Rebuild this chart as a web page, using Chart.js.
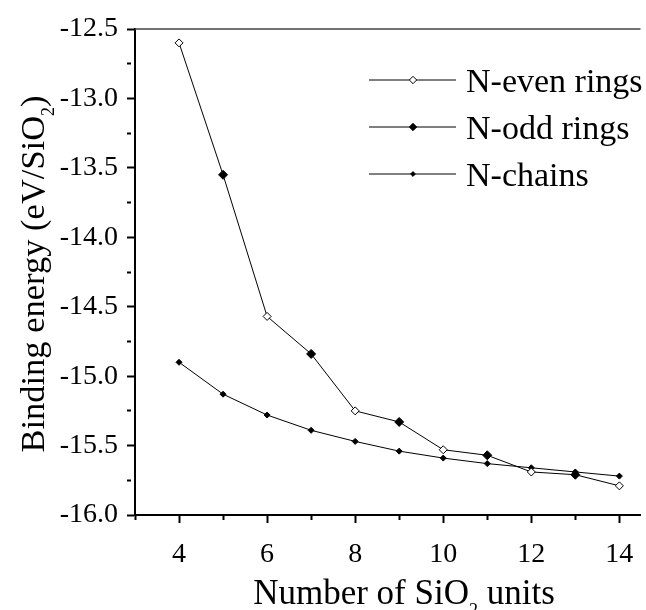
<!DOCTYPE html>
<html>
<head>
<meta charset="utf-8">
<script src="https://cdn.jsdelivr.net/npm/chart.js@4/dist/chart.umd.min.js"></script>
<style>
  html, body { margin: 0; padding: 0; background: #fff; overflow: hidden; }
  #wrap { position: relative; width: 646px; height: 610px; overflow: hidden; }
  #plot { position: absolute; left: 0; top: 0; }
  #overlay { position: absolute; left: 0; top: 0; pointer-events: none; }
  #overlay text { font-family: "Liberation Serif", "Times New Roman", serif; fill: #000; }
</style>
</head>
<body>
<div id="wrap">
  <canvas id="plot" width="646" height="610"></canvas>
  <svg id="overlay" width="646" height="610" xmlns="http://www.w3.org/2000/svg">
    <text transform="translate(44,274) rotate(-90)" text-anchor="middle" font-size="34.5">Binding energy (eV/SiO<tspan font-size="18" dy="10">2</tspan><tspan dy="-10">)</tspan></text>
    <text x="404" y="604" text-anchor="middle" font-size="35">Number of SiO<tspan font-size="18" dy="12">2</tspan><tspan dy="-12"> units</tspan></text>
    <g id="legend"></g>
  </svg>
</div>
<script>
// cluster size (number of SiO2 units) and binding energy per SiO2, eV
const ringEvenN = [4, 6, 8, 10, 12, 14];
const ringEvenE = [-12.60, -14.57, -15.25, -15.53, -15.69, -15.79];
const ringOddN = [5, 7, 9, 11, 13];
const ringOddE = [-13.55, -14.84, -15.33, -15.57, -15.71];
const chainN = [4, 5, 6, 7, 8, 9, 10, 11, 12, 13, 14];
const chainE = [-14.90, -15.13, -15.28, -15.39, -15.47, -15.54, -15.59, -15.63, -15.66, -15.69, -15.72];

const seriesNames = ['N-even rings', 'N-odd rings', 'N-chains'];

const FONT = '"Liberation Serif", "Times New Roman", serif';

function toPoints(xs, ys) {
  return xs.map((x, i) => ({x: x, y: ys[i]}));
}

// even and odd rings lie on one connected curve
const ringLine = toPoints(ringEvenN, ringEvenE)
    .concat(toPoints(ringOddN, ringOddE))
    .sort((a, b) => a.x - b.x);

// top edge of the frame
const frameTop = {
  id: 'frameTop',
  afterDraw(chart) {
    const {ctx, chartArea} = chart;
    ctx.save();
    ctx.strokeStyle = '#444';
    ctx.lineWidth = 1.5;
    ctx.beginPath();
    ctx.moveTo(chartArea.left, chartArea.top);
    ctx.lineTo(chartArea.right, chartArea.top);
    ctx.stroke();
    ctx.restore();
  }
};

const lineBase = {
  borderColor: '#000',
  borderWidth: 1,
  tension: 0,
  pointStyle: 'rectRot',
  pointBorderColor: '#000',
  pointBorderWidth: 1
};

new Chart(document.getElementById('plot'), {
  type: 'line',
  data: {
    datasets: [
      Object.assign({}, lineBase, {
        label: 'rings',
        data: ringLine,
        pointRadius: 0,
        order: 4
      }),
      Object.assign({}, lineBase, {
        label: seriesNames[2],
        data: toPoints(chainN, chainE),
        pointRadius: 3,
        pointBackgroundColor: '#000',
        order: 3
      }),
      Object.assign({}, lineBase, {
        label: seriesNames[0],
        data: toPoints(ringEvenN, ringEvenE),
        showLine: false,
        pointRadius: 4,
        pointBackgroundColor: '#fff',
        order: 2
      }),
      Object.assign({}, lineBase, {
        label: seriesNames[1],
        data: toPoints(ringOddN, ringOddE),
        showLine: false,
        pointRadius: 4.5,
        pointBackgroundColor: '#000',
        order: 1
      })
    ]
  },
  options: {
    responsive: false,
    animation: false,
    events: [],
    layout: {padding: {top: 29, left: 0, right: 0, bottom: 0}},
    plugins: {legend: {display: false}, tooltip: {enabled: false}},
    scales: {
      x: {
        type: 'linear',
        min: 3,
        max: 14.48,
        border: {color: '#000', width: 2},
        grid: {
          drawOnChartArea: false,
          tickLength: 8,
          tickWidth: 2,
          tickColor: '#000',
          // odd values get short minor ticks
          tickBorderDash: (ctx) => (ctx.tick && ctx.tick.value % 2 !== 0) ? [4, 40] : []
        },
        ticks: {
          stepSize: 1,
          autoSkip: false,
          includeBounds: false,
          maxRotation: 0,
          padding: 15,
          color: '#000',
          font: {family: FONT, size: 28},
          callback: (v) => v % 2 === 0 ? String(v) : ''
        },
        afterFit: (scale) => {
          scale.height = 95;
          scale.paddingLeft = 0;
          scale.paddingRight = 0;
        }
      },
      y: {
        type: 'linear',
        min: -16,
        max: -12.5,
        border: {color: '#000', width: 2},
        grid: {
          drawOnChartArea: false,
          tickLength: 8,
          tickWidth: 2,
          tickColor: '#000',
          tickBorderDash: (ctx) => {
            const v = ctx.tick ? ctx.tick.value * 2 : 0;
            return Math.abs(v - Math.round(v)) > 1e-6 ? [4, 40] : [];
          }
        },
        ticks: {
          stepSize: 0.25,
          autoSkip: false,
          includeBounds: false,
          padding: 9,
          color: '#000',
          font: {family: FONT, size: 28},
          callback: (v) => {
            const d = v * 2;
            return Math.abs(d - Math.round(d)) < 1e-6 ? v.toFixed(1) : '';
          }
        },
        afterFit: (scale) => {
          scale.width = 135;
          scale.paddingTop = 0;
          scale.paddingBottom = 0;
        }
      }
    }
  },
  plugins: [frameTop]
});

// legend: short line with the series marker, then the name
const legendRows = [
  {name: seriesNames[0], fill: '#fff', r: 3.7},
  {name: seriesNames[1], fill: '#000', r: 3.7},
  {name: seriesNames[2], fill: '#000', r: 2.4}
];
const NS = 'http://www.w3.org/2000/svg';
const legend = document.getElementById('legend');
legendRows.forEach((row, i) => {
  const y = 80 + i * 47;
  const line = document.createElementNS(NS, 'line');
  line.setAttribute('x1', 369);
  line.setAttribute('x2', 456);
  line.setAttribute('y1', y);
  line.setAttribute('y2', y);
  line.setAttribute('stroke', '#000');
  line.setAttribute('stroke-width', 1);
  legend.appendChild(line);

  const cx = 413;
  const d = document.createElementNS(NS, 'polygon');
  d.setAttribute('points', [
    [cx, y - row.r], [cx + row.r, y], [cx, y + row.r], [cx - row.r, y]
  ].map((p) => p.join(',')).join(' '));
  d.setAttribute('fill', row.fill);
  d.setAttribute('stroke', '#000');
  d.setAttribute('stroke-width', 1);
  legend.appendChild(d);

  const t = document.createElementNS(NS, 'text');
  t.setAttribute('x', 466);
  t.setAttribute('y', y + 11.5);
  t.setAttribute('font-size', 34);
  t.textContent = row.name;
  legend.appendChild(t);
});
</script>
</body>
</html>
